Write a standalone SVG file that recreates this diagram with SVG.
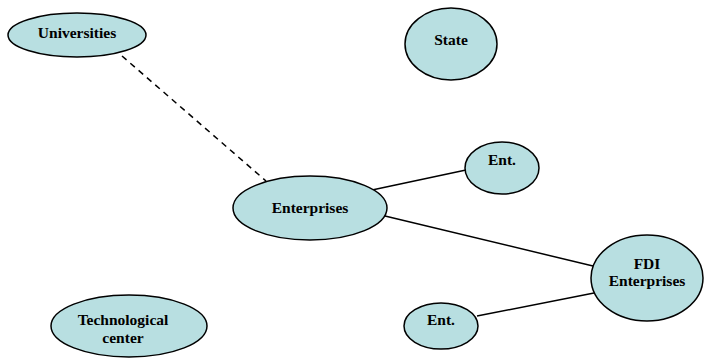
<svg xmlns="http://www.w3.org/2000/svg" width="706" height="359" viewBox="0 0 706 359">
<style>
.n{fill:#b8dfe1;stroke:#000;stroke-width:1.5}
.t{font-family:'Liberation Serif','DejaVu Serif',serif;font-weight:700;font-size:15.5px;fill:#000;text-anchor:middle}
.c{stroke:#000;stroke-width:1.5;fill:none}
.d{stroke-dasharray:6,5}
</style>
<rect width="706" height="359" fill="#fff"/>
<g id="connectors">
<line class="c d" x1="122" y1="56" x2="266" y2="181"/>
<line class="c" x1="372" y1="190" x2="466" y2="170"/>
<line class="c" x1="385" y1="216" x2="593" y2="266"/>
<line class="c" x1="477" y1="316" x2="594" y2="293"/>
</g>
<g id="universities"><ellipse class="n" cx="77" cy="35" rx="69" ry="22"/><text class="t" x="77" y="38">Universities</text></g>
<g id="state"><ellipse class="n" cx="451" cy="44" rx="46" ry="36"/><text class="t" x="451" y="45">State</text></g>
<g id="enterprises"><ellipse class="n" cx="310" cy="208" rx="77" ry="32"/><text class="t" x="310" y="213">Enterprises</text></g>
<g id="ent1"><ellipse class="n" cx="502" cy="168" rx="37" ry="26"/><text class="t" x="502" y="165">Ent.</text></g>
<g id="fdi"><ellipse class="n" cx="647" cy="278" rx="56" ry="43"/><text class="t" x="647" y="269">FDI</text><text class="t" x="647" y="286">Enterprises</text></g>
<g id="ent2"><ellipse class="n" cx="441" cy="326" rx="37" ry="23"/><text class="t" x="441" y="325">Ent.</text></g>
<g id="tech"><ellipse class="n" cx="129" cy="326" rx="78" ry="31"/><text class="t" x="123" y="325">Technological</text><text class="t" x="123" y="343">center</text></g>
</svg>
